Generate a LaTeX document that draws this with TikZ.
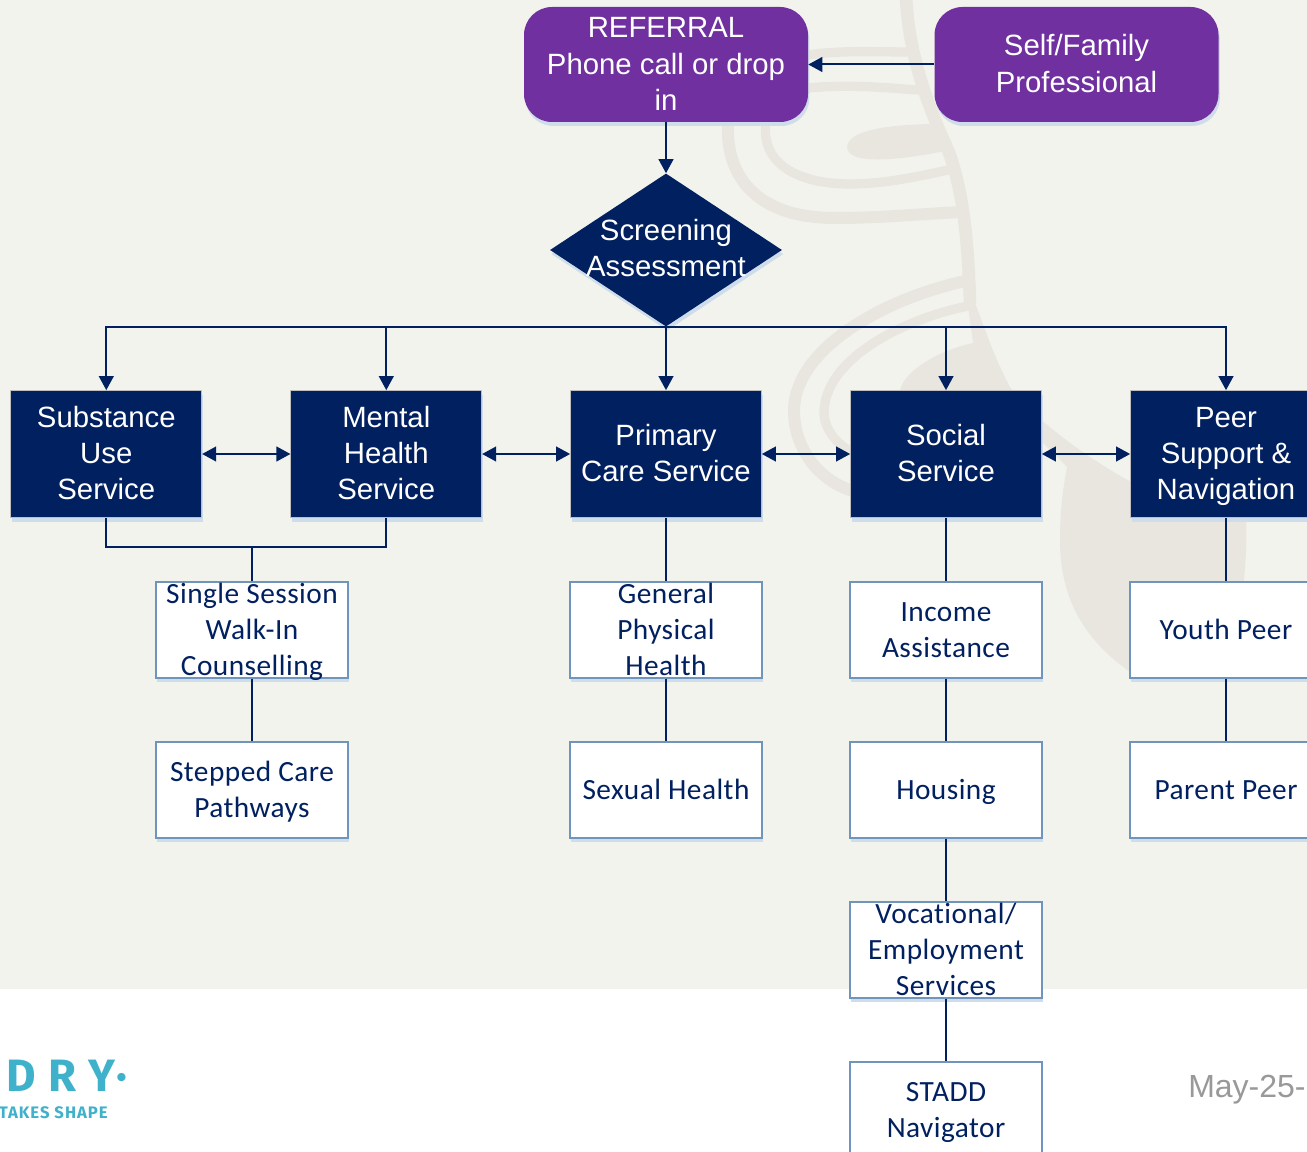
\documentclass[tikz,border=0pt]{standalone}
\usepackage{fontspec}
\usetikzlibrary{arrows.meta,shapes.geometric,shadows}
\setmainfont{Liberation Sans}
\newfontfamily\carlfont[LetterSpace=1.6,Ligatures=CommonOff]{Carlito}
\newfontfamily\logofont[LetterSpace=29]{Fira Sans Bold}
\newfontfamily\logosmall[LetterSpace=6]{Fira Sans Bold}
\definecolor{navyc}{HTML}{002060}
\definecolor{purpc}{HTML}{7030A0}
\definecolor{paperc}{HTML}{F3F3EE}
\definecolor{wmc}{HTML}{E9E6E0}
\definecolor{shadec}{HTML}{CFDDEB}
\definecolor{edgec}{HTML}{6F95BC}
\definecolor{tealc}{HTML}{3FB1CB}
\def\px{0.75pt}
\newcommand{\fl}[1]{\vrule height 16pt depth 1.5pt width 0pt\relax\smash{#1}}
\tikzset{
  x=0.75pt,y=-0.75pt,
  soft/.style={general shadow={fill=shadec,shadow xshift=1pt,shadow yshift=-3pt}},
  purplebox/.style={soft,fill=purpc,text=white,rounded corners=21pt,minimum width=284*\px,minimum height=115*\px,inner sep=0pt,align=center,font=\fontsize{22}{27.3}\selectfont},
  navybox/.style={soft,fill=navyc,draw=black!25,line width=.5pt,text=white,minimum width=191*\px,minimum height=127*\px,inner sep=0pt,align=center,font=\fontsize{22}{27}\selectfont},
  whitebox/.style={soft,fill=white,draw=edgec,line width=.8pt,text=navyc,minimum width=192*\px,minimum height=96*\px,inner sep=0pt,align=center,font=\carlfont\fontsize{22}{27}\selectfont},
  linkline/.style={draw=navyc,line width=1.5pt},
  tipline/.style={linkline,-{Triangle[length=10.5pt,width=11pt]}},
  bothtip/.style={linkline,{Triangle[length=10.5pt,width=11pt]}-{Triangle[length=10.5pt,width=11pt]}},
  wm/.style={draw=wmc,line cap=round,fill=none},
}
\begin{document}
\begin{tikzpicture}
\useasboundingbox (0,0) rectangle (1307,1152);
\clip (0,0) rectangle (1307,1152);
\fill[white] (0,0) rectangle (1307,1152);
\fill[paperc] (0,0) rectangle (1307,989);
% watermark
\draw[wm,line width=9.5pt] (906,-5) .. controls (908,50) and (925,100) .. (948,150) .. controls (965,195) and (968,250) .. (970,300);
\draw[wm,line width=7pt] (808,55) .. controls (840,50) and (880,52) .. (908,52);
\draw[wm,line width=7pt] (808,88) .. controls (850,84) and (890,88) .. (918,90);
\draw[wm,line width=9pt] (728,122) .. controls (725,175) and (755,218) .. (835,218) .. controls (880,218) and (920,214) .. (962,212);
\draw[wm,line width=7pt] (766,122) .. controls (760,165) and (800,184) .. (850,184) .. controls (885,184) and (920,176) .. (948,170);
\fill[wmc] (940,124) .. controls (900,124) and (848,128) .. (847,147) .. controls (848,166) and (900,160) .. (945,151) -- cycle;
\draw[wm,line width=9pt] (965,281) .. controls (880,300) and (795,350) .. (794,410) .. controls (794,450) and (820,480) .. (850,490);
\draw[wm,line width=7pt] (968,306) .. controls (900,320) and (825,360) .. (824,412) .. controls (824,430) and (838,445) .. (852,452);
\fill[wmc] (963,270) .. controls (975,300) and (990,350) .. (1010,387) .. controls (1025,410) and (1080,455) .. (1135,484) -- (1135,675) -- (1130,672) .. controls (1085,640) and (1060,600) .. (1060,540) .. controls (1060,500) and (1065,480) .. (1067,467) -- (1000,400) -- (900,390) .. controls (905,370) and (940,350) .. (973,343) -- cycle;
\fill[wmc] (1130,480) -- (1245,500) .. controls (1248,530) and (1246,560) .. (1243,590) -- (1130,590) -- cycle;
% nodes
\node[purplebox] (ref) at (666,64.5) {\fl{REFERRAL}\\Phone call or drop\\\fl{in}};
\node[purplebox] (self) at (1076.5,64.5) {\fl{Self/Family}\\\fl{Professional}};
\node[soft,diamond,fill=navyc,minimum width=232*\px,minimum height=153*\px,inner sep=0pt] (scr) at (666,250) {};
\node[text=white,align=center,font=\fontsize{22}{27.3}\selectfont,inner sep=0pt] (scrtext) at (666,249) {\fl{Screening}\\\fl{Assessment}};
\node[navybox] (su) at (106.3,454) {\fl{Substance}\\Use\\\fl{Service}};
\node[navybox] (mh) at (386.3,454) {\fl{Mental}\\Health\\\fl{Service}};
\node[navybox] (pc) at (666,454) {\fl{Primary}\\\fl{Care Service}};
\node[navybox] (so) at (946,454) {\fl{Social}\\\fl{Service}};
\node[navybox] (pe) at (1226,454) {\fl{Peer}\\Support \&\\\fl{Navigation}};
\node[whitebox] (ssw) at (252,630) {\fl{Single Session}\\Walk-In\\\fl{Counselling}};
\node[whitebox] (scp) at (252,790) {\fl{Stepped Care}\\\fl{Pathways}};
\node[whitebox] (gph) at (666,630) {\fl{General}\\Physical\\\fl{Health}};
\node[whitebox] (sxh) at (666,790) {\fl{Sexual Health}};
\node[whitebox] (inc) at (946,630) {\fl{Income}\\\fl{Assistance}};
\node[whitebox] (hou) at (946,790) {\fl{Housing}};
\node[whitebox] (voc) at (946,950) {\fl{Vocational/}\\Employment\\\fl{Services}};
\node[whitebox] (sta) at (946,1110) {\fl{STADD}\\\fl{Navigator}};
\node[whitebox] (yp) at (1226,630) {\fl{Youth Peer}};
\node[whitebox] (pp) at (1226,790) {\fl{Parent Peer}};
% connectors
\coordinate (join) at (252,547);
\draw[tipline] (self.west) -- (ref.east);
\draw[tipline] (ref.south) -- (scr.north);
\draw[tipline] (scr.south) -| (su.north);
\draw[tipline] (scr.south) -| (mh.north);
\draw[tipline] (scr.south) -- (pc.north);
\draw[tipline] (scr.south) -| (so.north);
\draw[tipline] (scr.south) -| (pe.north);
\draw[bothtip] (su.east) -- (mh.west);
\draw[bothtip] (mh.east) -- (pc.west);
\draw[bothtip] (pc.east) -- (so.west);
\draw[bothtip] (so.east) -- (pe.west);
\draw[linkline] (su.south) |- (join) -| (mh.south);
\draw[linkline] (join) -- (ssw.north);
\draw[linkline] (ssw.south) -- (scp.north);
\draw[linkline] (pc.south) -- (gph.north);
\draw[linkline] (gph.south) -- (sxh.north);
\draw[linkline] (so.south) -- (inc.north);
\draw[linkline] (inc.south) -- (hou.north);
\draw[linkline] (hou.south) -- (voc.north);
\draw[linkline] (voc.south) -- (sta.north);
\draw[linkline] (pe.south) -- (yp.north);
\draw[linkline] (yp.south) -- (pp.north);
% footer
\node[anchor=base west,inner sep=0pt,text=tealc,font=\logofont\fontsize{34}{34}\selectfont] (logo) at (6,1091) {DRY\kern1pt·};
\node[anchor=base east,inner sep=0pt,text=tealc,font=\logosmall\fontsize{12.5}{12.5}\selectfont] (tag) at (108,1118) {TAKES SHAPE};
\node[anchor=base west,inner sep=0pt,text=black!40,font=\fontsize{24}{24}\selectfont] (date) at (1188,1097) {May-25-};
\end{tikzpicture}
\end{document}
